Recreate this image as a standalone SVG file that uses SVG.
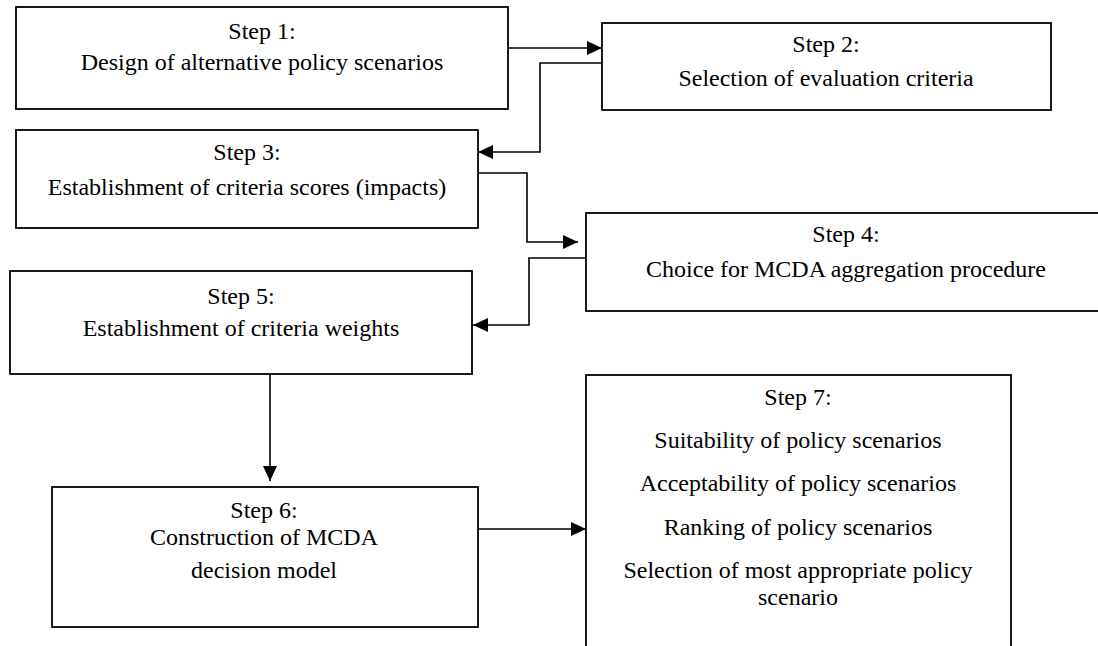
<svg xmlns="http://www.w3.org/2000/svg" width="1098" height="646" viewBox="0 0 1098 646">
<style>
.box{fill:#fff;stroke:#000;stroke-width:1.8}
.t{font-family:'Liberation Serif','Times New Roman',serif;font-size:24px;fill:#000;text-anchor:middle}
.c{fill:none;stroke:#000;stroke-width:1.6}
</style>
<defs>
<marker id="ah" markerUnits="userSpaceOnUse" markerWidth="16" markerHeight="14" refX="15" refY="7" orient="auto">
<path d="M0,0 L15,7 L0,14 Z" fill="#000"/>
</marker>
</defs>
<rect width="1098" height="646" fill="#fff"/>
<g id="n1"><rect class="box" x="16" y="7" width="492" height="102"/>
<text class="t" x="262" y="39">Step 1:</text><text class="t" x="262" y="70">Design of alternative policy scenarios</text></g>
<g id="n2"><rect class="box" x="602" y="23" width="449" height="87"/>
<text class="t" x="826" y="52">Step 2:</text><text class="t" x="826" y="86">Selection of evaluation criteria</text></g>
<g id="n3"><rect class="box" x="16" y="130" width="462" height="98"/>
<text class="t" x="247" y="160">Step 3:</text><text class="t" x="247" y="195">Establishment of criteria scores (impacts)</text></g>
<g id="n4"><rect class="box" x="586" y="213" width="514" height="98"/>
<text class="t" x="846" y="242">Step 4:</text><text class="t" x="846" y="277">Choice for MCDA aggregation procedure</text></g>
<g id="n5"><rect class="box" x="10" y="271" width="462" height="103"/>
<text class="t" x="241" y="304">Step 5:</text><text class="t" x="241" y="336">Establishment of criteria weights</text></g>
<g id="n6"><rect class="box" x="52" y="487" width="426" height="140"/>
<text class="t" x="264" y="518">Step 6:</text><text class="t" x="264" y="545">Construction of MCDA</text><text class="t" x="264" y="578">decision model</text></g>
<g id="n7"><rect class="box" x="586" y="375" width="425" height="290"/>
<text class="t" x="798" y="405">Step 7:</text>
<text class="t" x="798" y="448">Suitability of policy scenarios</text>
<text class="t" x="798" y="491">Acceptability of policy scenarios</text>
<text class="t" x="798" y="535">Ranking of policy scenarios</text>
<text class="t" x="798" y="578">Selection of most appropriate policy</text>
<text class="t" x="798" y="605">scenario</text></g>
<g id="connectors">
<polyline class="c" points="508,48 602,48" marker-end="url(#ah)"/>
<polyline class="c" points="602,63 540,63 540,152 478,152" marker-end="url(#ah)"/>
<polyline class="c" points="478,173 527,173 527,242 578,242" marker-end="url(#ah)"/>
<polyline class="c" points="586,258 529,258 529,325 473,325" marker-end="url(#ah)"/>
<polyline class="c" points="270,374 270,481" marker-end="url(#ah)"/>
<polyline class="c" points="478,529 586,529" marker-end="url(#ah)"/>
</g>
</svg>
